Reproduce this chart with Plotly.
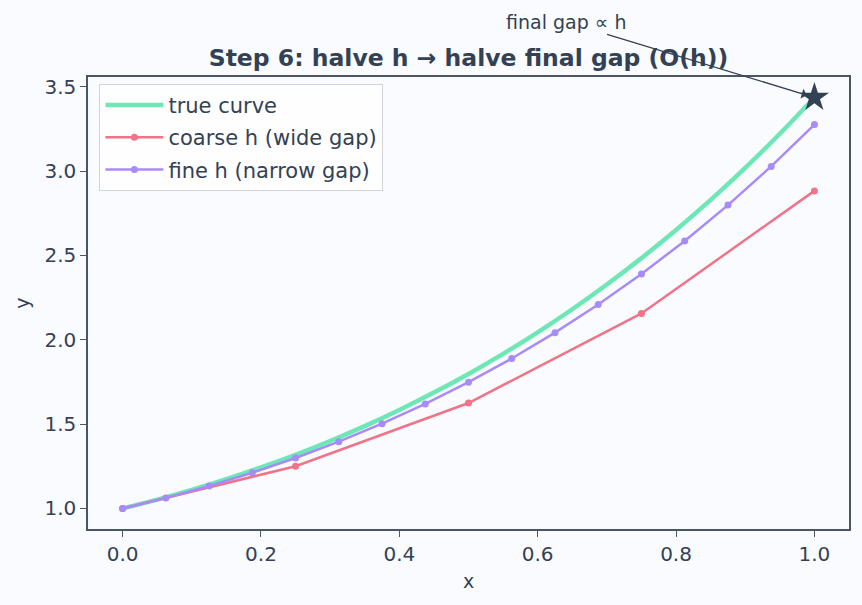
import plotly.graph_objects as go

# true curve samples
x_true = [0.0, 0.05, 0.1, 0.15, 0.2, 0.25, 0.3, 0.35, 0.4, 0.45, 0.5,
          0.55, 0.6, 0.65, 0.7, 0.75, 0.8, 0.85, 0.9, 0.95, 1.0]
y_true = [1.0, 1.052542, 1.110342, 1.173668, 1.242806, 1.31805, 1.399718,
          1.488136, 1.58365, 1.686624, 1.797442, 1.916506, 2.044238, 2.181082,
          2.327506, 2.484, 2.651082, 2.829294, 3.019206, 3.22142, 3.436564]

# coarse step
x_coarse = [0.0, 0.25, 0.5, 0.75, 1.0]
y_coarse = [1.0, 1.25, 1.625, 2.15625, 2.8828]

# fine step
x_fine = [0.0, 0.0625, 0.125, 0.1875, 0.25, 0.3125, 0.375, 0.4375, 0.5,
          0.5625, 0.625, 0.6875, 0.75, 0.8125, 0.875, 0.9375, 1.0]
y_fine = [1.0, 1.0625, 1.132813, 1.211426, 1.298859, 1.395662, 1.502422,
          1.619761, 1.74834, 1.888861, 2.042072, 2.208764, 2.38978, 2.586016,
          2.798423, 3.028012, 3.275857]

star_x = [1.0]
star_y = [3.436564]

TEXT = "#334155"
SPINE = "#4b5563"
BG = "#fafbfe"
FONT = "DejaVu Sans"

fig = go.Figure()
fig.add_trace(go.Scatter(x=x_true, y=y_true, mode="lines", name="true curve",
                         legendgroup="a",
                         line=dict(color="#6ee7b7", width=4.5, shape="spline")))
fig.add_trace(go.Scatter(x=x_coarse, y=y_coarse, mode="lines+markers",
                         name="coarse h (wide gap)", legendgroup="b",
                         line=dict(color="#f07388", width=2.5),
                         marker=dict(color="#f07388", size=7)))
fig.add_trace(go.Scatter(x=x_fine, y=y_fine, mode="lines+markers",
                         name="fine h (narrow gap)", legendgroup="c",
                         line=dict(color="#a78bfa", width=2.5),
                         marker=dict(color="#a78bfa", size=7)))
fig.add_trace(go.Scatter(x=star_x, y=star_y, mode="markers", showlegend=False,
                         marker=dict(symbol="star", size=22, color=TEXT)))

fig.add_annotation(x=1.0, y=3.436564, xref="x", yref="y",
                   ax=0.641, ay=3.885, axref="x", ayref="y",
                   text="final gap ∝ h", showarrow=True,
                   arrowhead=1, arrowsize=1.2, arrowwidth=1.4, arrowcolor=TEXT,
                   standoff=8,
                   font=dict(family=FONT, size=19, color=TEXT))

axis_common = dict(showgrid=False, zeroline=False, showline=True, mirror=True,
                   linecolor=SPINE, linewidth=1.5, ticks="outside", ticklen=6,
                   tickcolor=SPINE, tickwidth=1.2,
                   tickfont=dict(family=FONT, size=20, color=TEXT))

fig.update_layout(
    width=862, height=605,
    paper_bgcolor=BG, plot_bgcolor=BG,
    margin=dict(l=88, r=13, t=77, b=76),
    title=dict(text="<b>Step 6: halve h → halve final gap (O(h))</b>",
               x=0.5435, xanchor="center", y=0.905, yanchor="middle",
               font=dict(family=FONT, size=23.5, color=TEXT)),
    xaxis=dict(range=[-0.05, 1.05], tickvals=[0, 0.2, 0.4, 0.6, 0.8, 1.0],
               ticktext=["0.0", "0.2", "0.4", "0.6", "0.8", "1.0"],
               title=dict(text="x", font=dict(family=FONT, size=19, color=TEXT), standoff=10),
               **axis_common),
    yaxis=dict(range=[0.878, 3.558], tickvals=[1.0, 1.5, 2.0, 2.5, 3.0, 3.5],
               ticktext=["1.0", "1.5", "2.0", "2.5", "3.0", "3.5"],
               title=dict(text="y", font=dict(family=FONT, size=19, color=TEXT), standoff=10),
               **axis_common),
    legend=dict(x=0.015, y=0.985, xanchor="left", yanchor="top",
                bgcolor="rgba(255,255,255,0.8)", bordercolor="#d1d5db", borderwidth=1,
                font=dict(family=FONT, size=21, color=TEXT), tracegroupgap=2,
                itemwidth=58),
    showlegend=True,
)

fig.write_html("out.html")
